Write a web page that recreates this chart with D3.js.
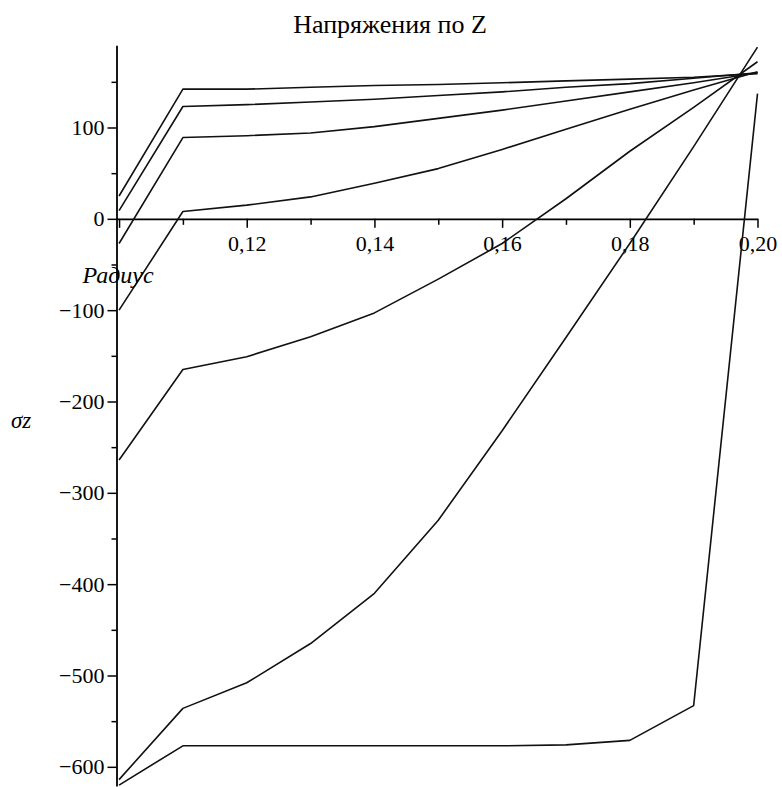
<!DOCTYPE html>
<html>
<head>
<meta charset="utf-8">
<script src="https://cdn.jsdelivr.net/npm/d3@7"></script>
<style>
  html, body { margin: 0; padding: 0; background: #fff; }
  svg text { font-family: "Liberation Serif", "DejaVu Serif", "Noto Serif", serif; fill: #000; }
</style>
</head>
<body>
<svg id="chart" width="782" height="787"></svg>
<script>
// ---- data ----
const radius = [0.10, 0.11, 0.12, 0.13, 0.14, 0.15, 0.16, 0.17, 0.18, 0.19, 0.20];
const series1 = [25, 142, 142, 144, 146, 147, 149, 151, 153, 155, 159];
const series2 = [9, 123, 125, 128, 131, 135, 139, 144, 148, 154, 160];
const series3 = [-27, 89, 91, 94, 101, 110, 119, 129, 139, 149, 160];
const series4 = [-100, 8, 15, 24, 39, 55, 76, 98, 120, 141, 161];
const series5 = [-264, -165, -151, -129, -103, -66, -27, 22, 74, 122, 172];
const series6 = [-614, -536, -508, -465, -410, -330, -232, -130, -27, 79, 188];
const series7 = [-620, -577, -577, -577, -577, -577, -577, -576, -571, -533, 137];
const allSeries = [series1, series2, series3, series4, series5, series6, series7];

const xMajorTicks = [0.10, 0.12, 0.14, 0.16, 0.18, 0.20];
const xMinorTicks = [0.11, 0.13, 0.15, 0.17, 0.19];
const yMajorTicks = [100, 0, -100, -200, -300, -400, -500, -600];
const yMinorTicks = [150, 50, -50, -150, -250, -350, -450, -550];

const titleText = "Напряжения по Z";
const xLabelText = "Радиус";
const yLabelText = "σz";

// ---- layout ----
const FONT = "'Liberation Serif', 'DejaVu Serif', 'Noto Serif', serif";
const svg = d3.select("#chart");
const x = d3.scaleLinear().domain([0.0996, 0.20]).range([116.5, 757.5]);
const y = d3.scaleLinear().domain([-621, 190]).range([786, 45.3]);

const fmtX = d => d === 0.10 ? "" : d3.format(".2f")(d).replace(".", ",");
const fmtY = d => d3.format("d")(d);

// x axis at y=0
const gx = svg.append("g").attr("transform", `translate(0,${y(0)})`);
gx.call(d3.axisBottom(x).tickValues(xMajorTicks).tickFormat(fmtX).tickSizeInner(9).tickSizeOuter(0).tickPadding(8));
const gxm = svg.append("g").attr("transform", `translate(0,${y(0)})`);
gxm.call(d3.axisBottom(x).tickValues(xMinorTicks).tickFormat("").tickSizeInner(6).tickSizeOuter(0));
gxm.select(".domain").remove();

// y axis at left edge
const gy = svg.append("g").attr("transform", `translate(${x.range()[0]},0)`);
gy.call(d3.axisLeft(y).tickValues(yMajorTicks).tickFormat(fmtY).tickSizeInner(9).tickSizeOuter(0).tickPadding(3));
const gym = svg.append("g").attr("transform", `translate(${x.range()[0]},0)`);
gym.call(d3.axisLeft(y).tickValues(yMinorTicks).tickFormat("").tickSizeInner(5).tickSizeOuter(0));
gym.select(".domain").remove();

svg.selectAll("g").attr("font-family", FONT);
svg.selectAll(".domain").attr("stroke", "#000").attr("stroke-width", 1.8);
svg.selectAll(".tick line").attr("stroke", "#000").attr("stroke-width", 1.5);
svg.selectAll(".tick text")
  .attr("font-family", FONT)
  .style("font-family", FONT)
  .style("font-size", "22px")
  .attr("fill", "#111");

// ---- curves ----
const line = d3.line().x((d, i) => x(radius[i])).y(d => y(d));
svg.append("g").selectAll("path")
  .data(allSeries)
  .join("path")
  .attr("d", d => line(d))
  .attr("fill", "none")
  .attr("stroke", "#111")
  .attr("stroke-width", 1.6)
  .attr("stroke-linejoin", "round");

// ---- texts ----
svg.append("text")
  .attr("x", 390).attr("y", 33)
  .attr("text-anchor", "middle")
  .style("font-family", FONT)
  .style("font-size", "26px")
  .text(titleText);

svg.append("text")
  .attr("x", 118).attr("y", 283)
  .attr("text-anchor", "middle")
  .style("font-family", FONT)
  .style("font-size", "24px")
  .style("font-style", "italic")
  .text(xLabelText);

svg.append("text")
  .attr("x", 11).attr("y", 428)
  .style("font-family", FONT)
  .style("font-size", "23px")
  .style("font-style", "italic")
  .text(yLabelText);
</script>
</body>
</html>
